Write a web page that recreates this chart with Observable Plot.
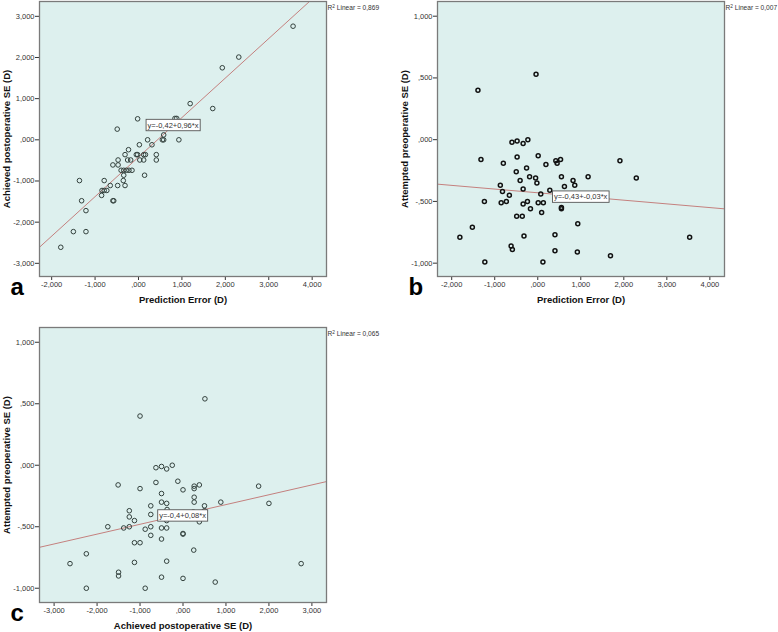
<!DOCTYPE html>
<html><head><meta charset="utf-8">
<script src="https://cdn.jsdelivr.net/npm/d3@7"></script>
<script src="https://cdn.jsdelivr.net/npm/@observablehq/plot@0.6"></script>
<style>
html,body{margin:0;padding:0;background:#fff;}
#wrap{position:relative;width:778px;height:632px;overflow:hidden;font-family:Arial,"Liberation Sans",sans-serif;}
.panel{position:absolute;}
</style></head><body><div id="wrap"></div>
<script>
// ---- Panel a: Prediction Error (D) vs Achieved postoperative SE (D)
const aPredErr = [2.31,1.93,3.56,1.19,1.71,0.84,0.88,-0.02,-0.49,0.58,0.55,0.58,0.93,0.02,0.21,0.31,-0.23,-0.31,-0.05,-0.02,0.12,0.16,0.41,0.41,-0.25,-0.18,0.03,0.12,-0.47,-0.59,-0.47,-0.40,-0.34,-0.28,-0.22,-0.15,-0.34,0.14,-0.35,-1.36,-0.79,-0.48,-0.31,-0.65,-0.84,-0.79,-0.73,-0.85,-0.59,-0.57,-1.31,-1.21,-1.50,-1.21,-1.79];
const aAchieved = [2.01,1.75,2.76,0.88,0.76,0.52,0.52,0.51,0.26,0.12,0.00,0.00,0.00,-0.12,0.00,-0.12,-0.24,-0.36,-0.36,-0.36,-0.36,-0.36,-0.36,-0.49,-0.49,-0.49,-0.49,-0.49,-0.49,-0.61,-0.61,-0.74,-0.74,-0.74,-0.74,-0.74,-0.86,-0.86,-0.99,-0.99,-0.99,-1.11,-1.11,-1.11,-1.23,-1.23,-1.23,-1.35,-1.48,-1.48,-1.48,-1.72,-2.23,-2.23,-2.61];

// ---- Panel b: Prediction Error (D) vs Attempted preoperative SE (D)
const bPredErr = [-0.60,-0.48,-0.34,-0.23,-1.32,-0.80,-0.48,0.01,0.19,0.42,0.45,0.53,-0.26,-0.50,-0.19,-0.05,-0.02,-0.41,0.55,0.82,0.86,0.62,1.17,-0.87,-0.82,-0.34,-0.66,0.28,0.07,-1.24,-0.85,-0.73,-0.24,-0.34,0.01,0.13,-0.17,0.09,0.55,0.55,-0.49,-0.36,0.93,-1.52,-1.81,-0.32,0.40,-0.62,-0.59,0.40,0.92,-1.23,0.12,-1.39,-0.04,1.91,2.29,3.53,1.69,0.84];
const bAttempted = [-0.02,-0.01,-0.03,0.00,-0.16,-0.19,-0.14,-0.13,-0.20,-0.17,-0.19,-0.16,-0.23,-0.26,-0.30,-0.31,-0.35,-0.33,-0.30,-0.33,-0.37,-0.38,-0.30,-0.37,-0.42,-0.40,-0.45,-0.41,-0.44,-0.50,-0.51,-0.50,-0.50,-0.52,-0.51,-0.51,-0.56,-0.59,-0.55,-0.56,-0.62,-0.62,-0.68,-0.71,-0.79,-0.78,-0.77,-0.86,-0.89,-0.90,-0.91,-0.99,-0.99,0.40,0.53,-0.17,-0.31,-0.79,-0.94,-0.46];

// ---- Panel c: Achieved postoperative SE (D) vs Attempted preoperative SE (D)
const cAchieved = [-1.00,0.51,-0.63,-0.50,-0.38,-0.25,-1.51,-1.00,-0.63,-0.12,0.00,0.26,0.26,0.38,1.76,-0.50,0.26,-0.50,-0.38,0.26,0.50,0.88,2.00,-0.75,-1.25,-1.25,-0.75,-1.13,-0.38,0.38,-1.75,-1.38,-1.25,-0.88,-0.75,-0.50,-0.38,0.00,0.00,-0.75,-0.50,-1.13,-1.00,0.25,-2.25,-2.63,-1.13,-0.38,2.75,-1.50,-1.50,-0.50,0.00,0.75,-2.25,-0.88,-0.37,0.50,0.24,-0.13];
const cAttempted = [0.40,0.54,-0.02,-0.01,-0.03,0.00,-0.16,-0.19,-0.14,-0.13,-0.20,-0.17,-0.19,-0.16,-0.17,-0.23,-0.26,-0.30,-0.31,-0.30,-0.33,-0.30,-0.31,-0.33,-0.37,-0.42,-0.40,-0.45,-0.45,-0.46,-0.50,-0.51,-0.50,-0.52,-0.50,-0.51,-0.51,-0.555,-0.56,-0.57,-0.60,-0.63,-0.63,-0.69,-0.72,-0.80,-0.79,-0.78,-0.80,-0.87,-0.90,-0.91,-0.92,-0.95,-1.00,-1.00,-0.36,-0.37,-0.38,-0.41];

// ---- Fit lines (from the printed equations) and R² labels
const fitIntercepts = [-0.42, -0.43, -0.4];
const fitSlopes = [0.96, -0.03, 0.08];
const eqLabels = ["y=-0,42+0,96*x", "y=-0,43+-0,03*x", "y=-0,4+0,08*x"];
const r2Values = ["0,869", "0,007", "0,065"];
const panelLetters = ["a", "b", "c"];
const xLabels = ["Prediction Error (D)", "Prediction Error (D)", "Achieved postoperative SE (D)"];
const yLabels = ["Achieved postoperative SE (D)", "Attempted preoperative SE (D)", "Attempted preoperative SE (D)"];
const ticksPE = [-2, -1, 0, 1, 2, 3, 4];
const ticksSE3 = [-3, -2, -1, 0, 1, 2, 3];
const ticksSE1 = [-1, -0.5, 0, 0.5, 1];
// equation-label anchor positions (data units)
const eqAnchorX = [0.795, 0.997, -0.01];
const eqAnchorY = [0.357, -0.462, -0.409];

const FONT = 'Arial, "Liberation Sans", sans-serif';
const BG = "#ddf0ee";
const LINE = "#c4807e";
const SVGNS = "http://www.w3.org/2000/svg";

function fmt(d) {
  let s = Math.abs(d).toFixed(3).replace(".", ",");
  if (s.startsWith("0")) s = s.slice(1);
  return (d < 0 ? "-" : "") + s;
}

const wrap = document.getElementById("wrap");

function panel(cfg) {
  const {i, xs, ys, xDomain, yDomain, xTicks, yTicks, left, top, width, height, m, dot} = cfg;
  const data = xs.map((x, k) => ({x, y: ys[k]}));
  const fitLine = xDomain.map(x => ({x, y: fitIntercepts[i] + fitSlopes[i] * x}));
  const r2Text = "R2 Linear = " + r2Values[i];
  const svg = Plot.plot({
    width, height,
    marginLeft: m[3], marginRight: m[1], marginTop: m[0], marginBottom: m[2],
    style: {fontFamily: FONT, fontSize: "7.5px", color: "#333", background: "transparent", overflow: "visible"},
    x: {domain: xDomain, ticks: xTicks, tickFormat: fmt, tickSize: 4, tickPadding: 1, label: null},
    y: {domain: yDomain, ticks: yTicks, tickFormat: fmt, tickSize: 4, tickPadding: 1, label: null},
    marks: [
      Plot.frame({fill: BG, stroke: "none"}),
      Plot.line(fitLine, {x: "x", y: "y", stroke: LINE, strokeWidth: 1, clip: "frame"}),
      Plot.dot(data, {x: "x", y: "y", r: dot.r, stroke: dot.stroke, strokeWidth: dot.sw, fill: "none"}),
      Plot.text([eqLabels[i]], {x: [eqAnchorX[i]], y: [eqAnchorY[i]], text: d => d, textAnchor: "middle", lineAnchor: "middle", fill: "#333", fontSize: 7.5}),
      Plot.frame({stroke: "#7a7a7a", strokeWidth: 1.3}),
      Plot.text([r2Text], {frameAnchor: "top-right", text: d => d, textAnchor: "start", lineAnchor: "middle", dx: 1, dy: 6.5, fontSize: 6.6, fill: "#333"}),
      Plot.text([panelLetters[i]], {frameAnchor: "bottom-left", text: d => d, textAnchor: "start", lineAnchor: "bottom", dx: -29, dy: 18, fontSize: 24, fontWeight: "bold", fill: "#000"}),
      Plot.text([xLabels[i]], {frameAnchor: "bottom", text: d => d, textAnchor: "middle", lineAnchor: "bottom", dy: 26, fontSize: 9.5, fontWeight: "bold", fill: "#111"}),
      Plot.text([yLabels[i]], {frameAnchor: "left", text: d => d, rotate: -90, textAnchor: "middle", lineAnchor: "bottom", dx: -30, fontSize: 9.5, fontWeight: "bold", fill: "#111"})
    ]
  });
  const div = document.createElement("div");
  div.className = "panel";
  div.style.left = left + "px";
  div.style.top = top + "px";
  div.appendChild(svg);
  wrap.appendChild(div);
  const texts = Array.from(svg.querySelectorAll("text"));
  // white box behind the equation label
  texts.filter(t => t.textContent === eqLabels[i]).forEach(t => {
    const b = t.getBBox();
    const r = document.createElementNS(SVGNS, "rect");
    r.setAttribute("x", b.x - 1.5);
    r.setAttribute("y", b.y - 1.2);
    r.setAttribute("width", b.width + 3);
    r.setAttribute("height", b.height + 2.4);
    r.setAttribute("fill", "#fff");
    r.setAttribute("stroke", "#555");
    r.setAttribute("stroke-width", "0.9");
    const tr = t.getAttribute("transform");
    if (tr) r.setAttribute("transform", tr);
    t.parentNode.insertBefore(r, t);
  });
  // superscript 2 in the R² label
  texts.filter(t => t.textContent === r2Text).forEach(t => {
    t.textContent = "";
    const a = document.createElementNS(SVGNS, "tspan"); a.textContent = "R";
    const s = document.createElementNS(SVGNS, "tspan"); s.textContent = "2";
    s.setAttribute("dy", "-2.5"); s.setAttribute("font-size", "4.8");
    const c = document.createElementNS(SVGNS, "tspan"); c.textContent = " Linear = " + r2Values[i];
    c.setAttribute("dy", "2.5");
    t.append(a, s, c);
  });
}

const dotAC = {r: 2.3, stroke: "#33413d", sw: 1};
const dotB = {r: 2, stroke: "#111", sw: 1.5};

panel({i: 0, xs: aPredErr, ys: aAchieved, xDomain: [-2.28, 4.33], yDomain: [-3.32, 3.36], xTicks: ticksPE, yTicks: ticksSE3,
  left: 0, top: 0, width: 390, height: 310, m: [1, 64, 34, 39], dot: dotAC});
panel({i: 1, xs: bPredErr, ys: bAttempted, xDomain: [-2.33, 4.34], yDomain: [-1.108, 1.119], xTicks: ticksPE, yTicks: ticksSE1,
  left: 390, top: 0, width: 388, height: 310, m: [1, 54, 34, 47], dot: dotB});
panel({i: 2, xs: cAchieved, ys: cAttempted, xDomain: [-3.34, 3.34], yDomain: [-1.116, 1.12], xTicks: ticksSE3, yTicks: ticksSE1,
  left: 0, top: 310, width: 390, height: 322, m: [17, 64, 30, 39], dot: dotAC});
</script></body></html>
